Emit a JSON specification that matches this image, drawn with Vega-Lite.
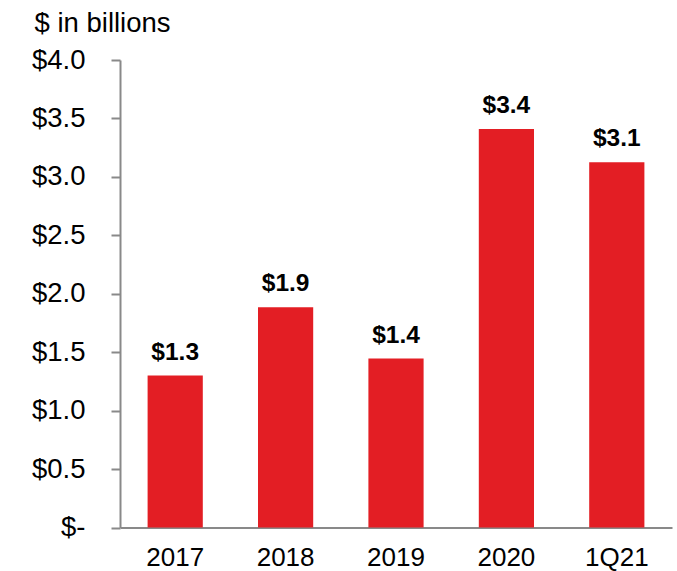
{
  "$schema": "https://vega.github.io/schema/vega-lite/v6.json",
  "autosize": "none",
  "width": 552,
  "height": 467.5,
  "padding": {"left": 120, "top": 60, "right": 5, "bottom": 43.5},
  "background": "white",
  "config": {
    "view": {"stroke": null},
    "font": "Liberation Sans",
    "axis": {"labelFont": "Liberation Sans", "titleFont": "Liberation Sans"}
  },
  "data": {
    "values": [
      {"period": "2017", "value": 1.30},
      {"period": "2018", "value": 1.885},
      {"period": "2019", "value": 1.445},
      {"period": "2020", "value": 3.41},
      {"period": "1Q21", "value": 3.125}
    ]
  },
  "encoding": {
    "x": {
      "field": "period",
      "type": "nominal",
      "sort": null,
      "scale": {"paddingInner": 0.5, "paddingOuter": 0.25},
      "axis": {
        "title": null,
        "labelAngle": 0,
        "labelFontSize": 26,
        "labelColor": "#000000",
        "labelPadding": 17,
        "ticks": false,
        "domainColor": "#898989",
        "domainWidth": 2
      }
    },
    "y": {
      "field": "value",
      "type": "quantitative",
      "scale": {"domain": [0, 4]},
      "axis": {
        "title": "$ in billions",
        "titleAngle": 0,
        "titleX": -86,
        "titleY": -29,
        "titleAlign": "left",
        "titleBaseline": "alphabetic",
        "titleFontSize": 27.5,
        "titleFontWeight": "normal",
        "titleColor": "#000000",
        "values": [0, 0.5, 1, 1.5, 2, 2.5, 3, 3.5, 4],
        "labelExpr": "datum.value == 0 ? '$-' : '$' + format(datum.value, '.1f')",
        "labelFontSize": 27.5,
        "labelColor": "#000000",
        "labelPadding": 26,
        "tickSize": 9,
        "tickColor": "#898989",
        "tickWidth": 2,
        "domainColor": "#898989",
        "domainWidth": 2,
        "grid": false
      }
    }
  },
  "layer": [
    {"mark": {"type": "bar", "color": "#E31E24"}},
    {
      "mark": {"type": "text", "fontSize": 24.5, "fontWeight": "bold", "baseline": "alphabetic", "dy": -16, "color": "#000000"},
      "encoding": {"text": {"field": "value", "type": "quantitative", "format": "$.1f"}}
    }
  ]
}
